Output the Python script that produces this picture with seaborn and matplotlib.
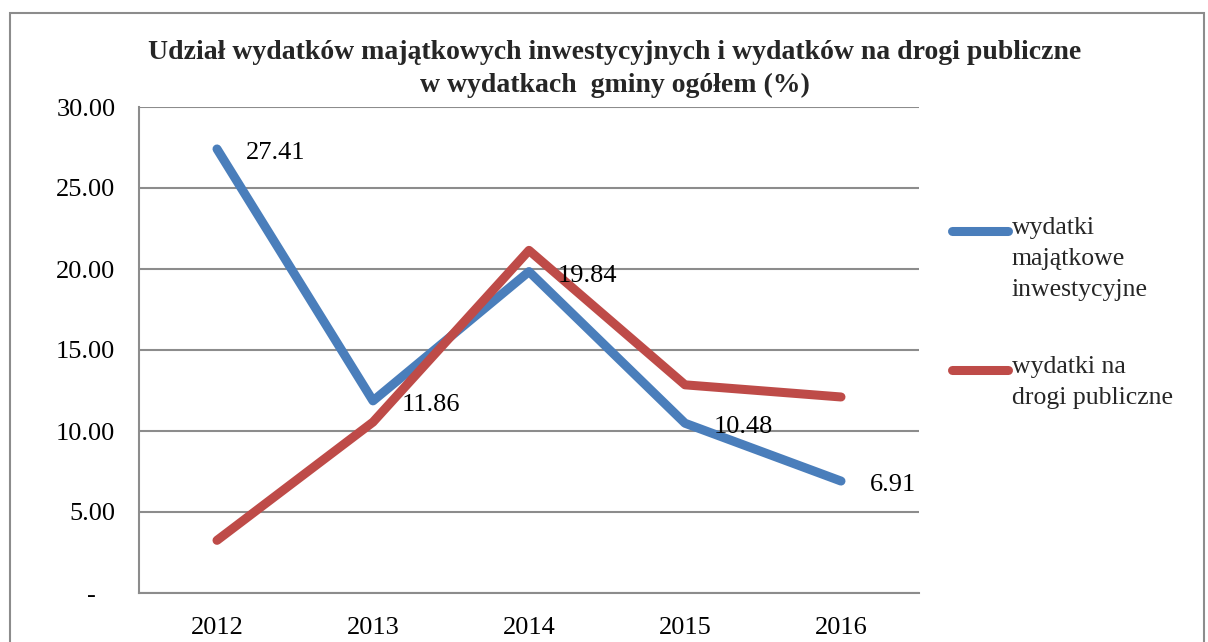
import matplotlib
matplotlib.use("Agg")
import matplotlib.pyplot as plt
from matplotlib.lines import Line2D
from matplotlib.patches import Rectangle
import seaborn as sns
import pandas as pd

years = [2012, 2013, 2014, 2015, 2016]
inwestycyjne = [27.41, 11.86, 19.84, 10.48, 6.91]
drogi = [3.25, 10.55, 21.15, 12.85, 12.10]
series_names = ["wydatki majątkowe inwestycyjne", "wydatki na drogi publiczne"]
legend_texts = ["wydatki\nmajątkowe\ninwestycyjne", "wydatki na\ndrogi publiczne"]
y_ticks = [0, 5, 10, 15, 20, 25, 30]
title = ("Udział wydatków majątkowych inwestycyjnych i wydatków na drogi publiczne\n"
         "w wydatkach  gminy ogółem (%)")

colors = ["#4A7EBB", "#BE4B48"]

sns.set_theme(style="white")
plt.rcParams["font.family"] = ["Liberation Serif", "DejaVu Serif"]

df = pd.DataFrame({
    "rok": years * 2,
    "wartosc": inwestycyjne + drogi,
    "seria": [series_names[0]] * len(years) + [series_names[1]] * len(years),
})

fig = plt.figure(figsize=(12.08, 6.42), dpi=100)
ax = fig.add_axes([139 / 1208, 1 - 593 / 642, 780 / 1208, (593 - 107) / 642])

sns.lineplot(data=df, x="rok", y="wartosc", hue="seria", palette=colors,
             linewidth=6.5, ax=ax, legend=False, sort=False)
for ln in ax.get_lines():
    ln.set_solid_capstyle("round")
    ln.set_solid_joinstyle("round")

ax.set_xlim(years[0] - 0.5, years[-1] + 0.5)
ax.set_ylim(0, 30)
ax.set_xticks(years)
ax.set_xticklabels([str(y) for y in years])
ax.set_yticks(y_ticks)
ax.set_yticklabels(["-   " if v == 0 else f"{v:.2f}" for v in y_ticks])
ax.set_xlabel("")
ax.set_ylabel("")
ax.tick_params(axis="both", length=0, labelsize=19, colors="black")
ax.tick_params(axis="y", pad=17)
ax.tick_params(axis="x", pad=17)

ax.grid(axis="y", color="#8c8c8c", linewidth=1.5)
ax.grid(axis="x", visible=False)
for side in ["top", "right"]:
    ax.spines[side].set_visible(False)
for side in ["left", "bottom"]:
    ax.spines[side].set_color("#8c8c8c")
    ax.spines[side].set_linewidth(1.5)

for x, v in zip(years, inwestycyjne):
    ax.annotate(f"{v:.2f}", xy=(x, v), xytext=(21, -3), textcoords="offset points",
                ha="left", va="center", fontsize=19, color="black")

fig.text(615 / 1208, 1 - 69 / 642, title, ha="center", va="center",
         fontsize=20, fontweight="bold", linespacing=1.45)

# legend drawn beside the plot area
legend_rows = [231, 370]
for color, text, yrow in zip(colors, legend_texts, legend_rows):
    yf = 1 - yrow / 642
    fig.add_artist(Line2D([952 / 1208, 1008 / 1208], [yf, yf], color=color,
                          linewidth=6.5, solid_capstyle="round",
                          transform=fig.transFigure))
    fig.text(1012 / 1208, 1 - (yrow - 14) / 642, text, ha="left", va="top",
             fontsize=18.5, linespacing=1.52)

fig.add_artist(Rectangle((10 / 1208, -0.05), 1194 / 1208, 1.05 - 13 / 642,
                         transform=fig.transFigure, fill=False,
                         edgecolor="#8c8c8c", linewidth=1.5))

fig.savefig("out.png", dpi=100)
